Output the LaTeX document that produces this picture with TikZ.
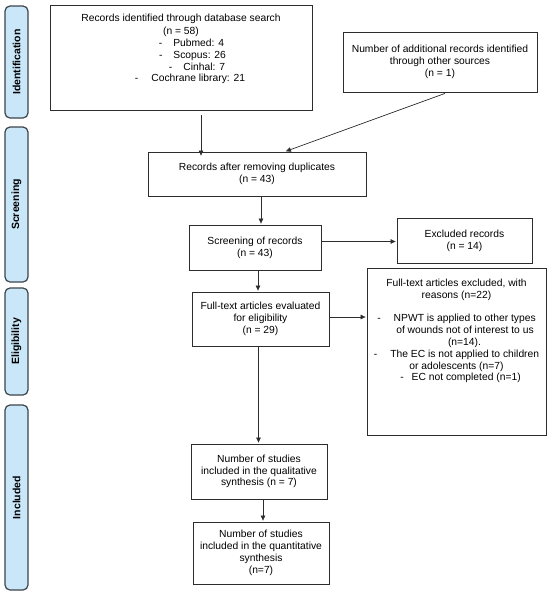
\documentclass[tikz,border=0pt]{standalone}
\usepackage{fontspec}
\setmainfont{Liberation Sans}
\usetikzlibrary{arrows.meta}
\definecolor{sidebl}{RGB}{202,231,250}
\definecolor{sidebd}{RGB}{60,68,72}
\definecolor{lncol}{RGB}{45,45,45}
\begin{document}
\begin{tikzpicture}[x=1pt,y=-1pt,
  txt/.style={font=\fontsize{10.3}{11.8}\selectfont, align=center},
  box/.style={draw=lncol, line width=0.8pt, inner sep=2pt, txt},
  tallbox/.style={draw=lncol, line width=0.8pt, inner sep=2pt, font=\fontsize{10.3}{11.8}\selectfont},
  phase/.style={draw=sidebd, line width=1.2pt, fill=sidebl, rounded corners=5pt,
    rotate=90, minimum height=23pt, inner sep=0pt,
    font=\fontsize{10.5}{12}\selectfont\bfseries},
  arr/.style={-{Triangle[length=5pt,width=4.5pt]}, line width=0.7pt, draw=lncol, shorten >=1pt}]
\useasboundingbox (0,0) rectangle (550,595);
% phase bars
\node[phase, minimum width=112pt] (pid) at (16.5,62) {Identification};
\node[phase, minimum width=155pt] (psc) at (16.5,204.5) {Screening};
\node[phase, minimum width=107pt] (pel) at (16.5,341.5) {Eligibility};
\node[phase, minimum width=185pt] (pin) at (16.5,497.5) {Included};
% boxes
\node[tallbox] (db) at (181,57.5) {\parbox[c][101pt][t]{258pt}{\centering
  \vspace*{7pt}Records identified through database search\\[1.5pt]
  (n = 58)\\
  \hspace*{21pt}-\hspace{11pt}Pubmed: 4\\
  \hspace*{23pt}-\hspace{11pt}Scopus: 26\\
  \hspace*{32pt}-\hspace{11pt}Cinhal: 7\\
  \hspace*{18pt}-\hspace{13pt}Cochrane library: 21\par}};
\node[box, minimum width=194pt, minimum height=60pt] (add) at (440,62)
  {Number of additional records identified\\through other sources\\(n = 1)};
\node[box, minimum width=218pt, minimum height=44pt] (dup) at (257,174)
  {Records after removing duplicates\\(n = 43)};
\node[box, minimum width=132pt, minimum height=45pt] (scr) at (255,247.5)
  {Screening of records\\(n = 43)};
\node[box, minimum width=135pt, minimum height=45pt] (exc) at (464.5,240.5)
  {Excluded records\\(n = 14)};
\node[box, minimum width=137pt, minimum height=54pt] (ft) at (260.5,319)
  {Full-text articles evaluated\\for eligibility\\(n = 29)};
\node[tallbox] (fte) at (456.5,351.5) {\parbox[c][163pt][t]{175pt}{\centering
  \vspace*{9pt}Full-text articles excluded, with\\
  reasons (n=22)\\[11.8pt]
  -\hspace{13pt}NPWT is applied to other types\\
  \hspace*{17pt}of wounds not of interest to us\\
  \hspace*{16pt}(n=14).\\
  -\hspace{13pt}The EC is not applied to children\\
  or adolescents (n=7)\\
  \hspace*{8pt}-\hspace{8pt}EC not completed (n=1)\par}};
\node[box, minimum width=136pt, minimum height=55pt] (qual) at (259,471.5)
  {Number of studies\\included in the qualitative\\synthesis (n = 7)};
\node[box, minimum width=136pt, minimum height=62pt] (quant) at (261,553)
  {Number of studies\\included in the quantitative\\synthesis\\(n=7)};
% connectors
\draw[arr] ([xshift=20pt,yshift=-5pt]db.south) -- ([xshift=20pt,yshift=-5pt]db.south |- dup.north);
\draw[arr] ([xshift=5pt,yshift=-1pt]add.south) -- ([xshift=28pt]dup.north);
\draw[arr] ([xshift=4pt]dup.south) -- ([xshift=4pt]dup.south |- scr.north);
\draw[arr] ([yshift=6pt]scr.east) -- ([yshift=6pt]scr.east -| exc.west);
\draw[arr] ([xshift=3pt]scr.south) -- ([xshift=3pt]scr.south |- ft.north);
\draw[arr] ([yshift=2pt]ft.east) -- ([yshift=2pt]ft.east -| fte.west);
\draw[arr] ([xshift=-2pt]ft.south) -- ([xshift=-2pt]ft.south |- qual.north);
\draw[arr] ([xshift=4pt]qual.south) -- ([xshift=4pt]qual.south |- quant.north);
\end{tikzpicture}
\end{document}
